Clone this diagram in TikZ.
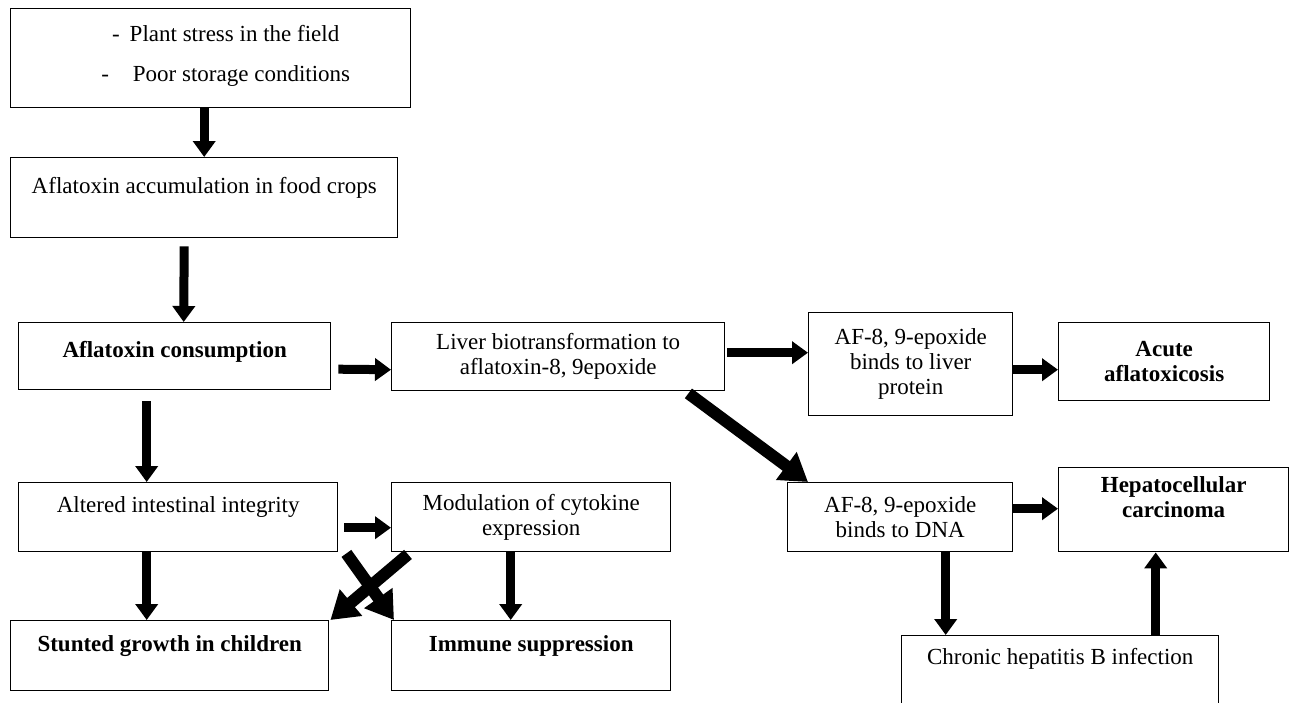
\documentclass[tikz,border=0pt]{standalone}
\usepackage{fontspec}
\setmainfont{Liberation Serif}
\usepackage{tikz}
\usetikzlibrary{arrows.meta}
\newcommand{\tamano}{\fontsize{23}{25}\selectfont}

\begin{document}
\begin{tikzpicture}[x=1pt, y=-1pt, every node/.style={font=\tamano}]
    \tikzstyle{caja}=[draw=black, line width=1.4pt, anchor=north west, align=center, inner sep=0pt]
    \tikzstyle{negrita}=[font=\tamano\bfseries]
    \tikzstyle{flecha}=[line width=9pt, -{Triangle[length=16pt,width=22pt]}]
    \tikzstyle{flechota}=[line width=12pt, -{Triangle[length=27pt,width=33pt]}]

    \useasboundingbox (0,0) rectangle (1294,702);
    \clip (0,0) rectangle (1294,702);

    % Origen
    \node[caja, minimum width=400pt, minimum height=99pt] (estres)   at (10,8)    {\hspace*{30pt}-\hspace{10pt}Plant stress in the field\\[15pt]\hspace*{30pt}-\hspace{24pt}Poor storage conditions\\[-15pt]\mbox{}};
    \node[caja, minimum width=387pt, minimum height=80pt] (acumula)  at (10,157)  {Aflatoxin accumulation in food crops\\ \mbox{}};
    \node[caja, negrita, minimum width=312pt, minimum height=67pt] (consumo) at (18,322) {Aflatoxin consumption\\[-11pt]\mbox{}};

    % Camino del higado
    \node[caja, minimum width=333pt, minimum height=68pt] (higado)   at (391,322) {Liver biotransformation to\\aflatoxin-8, 9epoxide};
    \node[caja, minimum width=204pt, minimum height=103pt] (proteina) at (808,312) {AF-8, 9-epoxide\\binds to liver\\protein};
    \node[caja, negrita, minimum width=211pt, minimum height=78pt] (aguda) at (1058,322) {Acute\\aflatoxicosis};
    \node[caja, minimum width=225pt, minimum height=69pt] (adn)      at (787,482) {AF-8, 9-epoxide\\binds to DNA};
    \node[caja, negrita, minimum width=230pt, minimum height=84pt] (hepato) at (1058,467) {Hepatocellular\\carcinoma\\ \mbox{}};
    \node[caja, minimum width=317pt, minimum height=80pt] (hepatitis) at (901,635) {Chronic hepatitis B infection\\ \mbox{}\\[-11pt]\mbox{}};

    % Camino intestinal
    \node[caja, minimum width=319pt, minimum height=69pt] (intestino) at (18,482) {Altered intestinal integrity\\ \mbox{}};
    \node[caja, minimum width=279pt, minimum height=69pt] (citoquina) at (391,482) {Modulation of cytokine\\expression};
    \node[caja, negrita, minimum width=318pt, minimum height=70pt] (retraso) at (10,620) {Stunted growth in children\\ \mbox{}};
    \node[caja, negrita, minimum width=279pt, minimum height=70pt] (inmune) at (391,620) {Immune suppression\\ \mbox{}};

    \path
        (estres.south -| acumula.north)            edge[flecha]   (acumula.north)
        ([xshift=-20pt,yshift=-8pt]acumula.south)  edge[flecha]   ([xshift=9pt]consumo.north)
        ([xshift=7pt,yshift=-13pt]consumo.east)    edge[flecha]   ([yshift=-13pt]higado.west)
        ([xshift=2pt,yshift=4pt]higado.east)       edge[flecha]   ([yshift=11.5pt]proteina.west)
        ([yshift=-5.5pt]proteina.east)             edge[flecha]   ([yshift=-8pt]aguda.west)
        ([xshift=-37pt,yshift=-2pt]higado.south east) edge[flechota] ([xshift=21pt]adn.north west)
        ([yshift=8.5pt]adn.east)                   edge[flecha]   ([yshift=1pt]hepato.west)
        ([xshift=45.5pt]adn.south)                 edge[flecha]   ([xshift=-114.5pt]hepatitis.north)
        ([xshift=95.5pt]hepatitis.north)           edge[flecha]   ([xshift=-18pt]hepato.south)

        % Los de abajo
        ([xshift=-28pt,yshift=-11pt]consumo.south) edge[flecha]   ([xshift=-31.5pt]intestino.north)
        ([xshift=6pt,yshift=-10.5pt]intestino.east) edge[flecha]  ([yshift=-10.5pt]citoquina.west)
        ([xshift=-31.5pt]intestino.south)          edge[flecha]   ([xshift=-23pt]retraso.north)
        ([xshift=-20.5pt]citoquina.south)          edge[flecha]   ([xshift=-20.5pt]inmune.north)
        ([xshift=8pt,yshift=-1pt]intestino.south east) edge[flechota] ([xshift=3pt]inmune.north west)
        ([xshift=17pt,yshift=-2pt]citoquina.south west) edge[flechota] ([xshift=1pt]retraso.north east)
    ;
\end{tikzpicture}
\end{document}
